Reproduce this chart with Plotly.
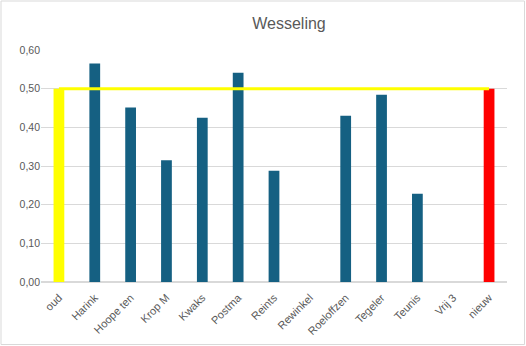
import plotly.graph_objects as go

categories = ["oud", "Harink", "Hoope ten", "Krop M", "Kwaks", "Postma", "Reints",
              "Rewinkel", "Roeloffzen", "Tegeler", "Teunis", "Vrij 3", "nieuw"]
values = [0.50, 0.565, 0.451, 0.315, 0.425, 0.541, 0.288, 0.0, 0.430, 0.484, 0.228, 0.0, 0.50]
reference_level = [0.50] * len(categories)
y_ticks = [0.0, 0.1, 0.2, 0.3, 0.4, 0.5, 0.6]

bar_colors = ["#FFFF00"] + ["#156082"] * (len(categories) - 2) + ["#FF0000"]

W, H = 526, 346
L, R, T, B = 41, 19, 50, 64

fig = go.Figure()
fig.add_trace(go.Bar(x=categories, y=values, marker=dict(color=bar_colors, line=dict(width=0)),
                     width=0.3, showlegend=False))
fig.add_trace(go.Scatter(x=categories, y=reference_level, mode="lines",
                         line=dict(color="#FFFF00", width=3), showlegend=False))

pw, ph = W - L - R, H - T - B
fig.add_shape(type="rect", xref="paper", yref="paper",
              x0=-(L - 1) / pw, x1=1 + (R - 1.5) / pw,
              y0=-(B - 1.5) / ph, y1=1 + (T - 1) / ph,
              line=dict(color="#D9D9D9", width=1), fillcolor="rgba(0,0,0,0)", layer="below")

fig.update_layout(
    width=W, height=H,
    margin=dict(l=L, r=R, t=T, b=B),
    paper_bgcolor="white", plot_bgcolor="white",
    separators=",.",
    font=dict(family="Liberation Sans, Arial, sans-serif", color="#595959", size=10),
    title=dict(text="Wesseling", x=289 / W, xanchor="center", y=1 - 23 / H, yanchor="middle",
               font=dict(size=16, color="#595959")),
    xaxis=dict(tickangle=-45, showgrid=False, showline=False, ticks="outside", ticklen=4,
               tickcolor="rgba(0,0,0,0)", tickfont=dict(size=11, color="#595959"),
               automargin=False),
    yaxis=dict(range=[0, 0.6], tickvals=y_ticks, tickformat=".2f", showgrid=True,
               gridcolor="#D9D9D9", gridwidth=1, zeroline=True, zerolinecolor="#D9D9D9",
               showline=False, ticks="", ticklen=0, tickfont=dict(size=10.5, color="#595959"),
               automargin=False),
    bargap=0.7,
)

fig.write_html("out.html")
